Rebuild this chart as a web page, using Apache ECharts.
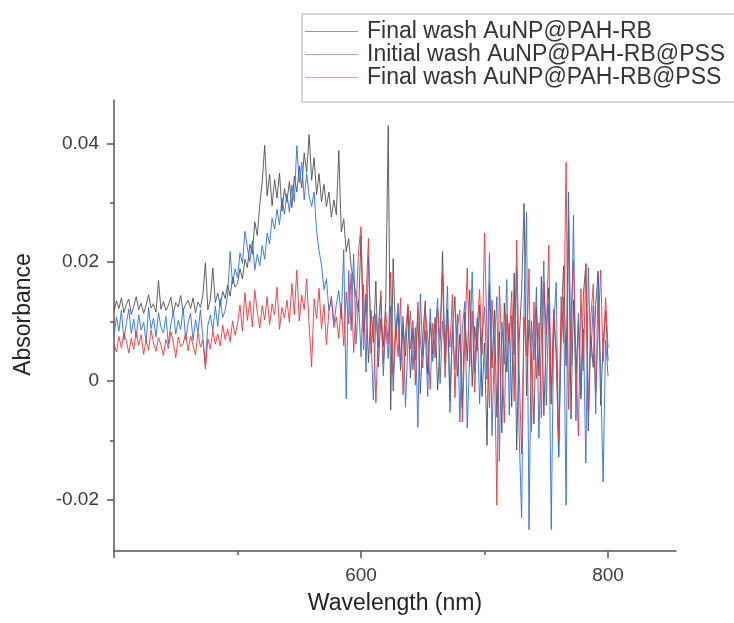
<!DOCTYPE html>
<html>
<head>
<meta charset="utf-8">
<script src="https://cdn.jsdelivr.net/npm/echarts@6/dist/echarts.min.js"></script>
<style>
    html, body { margin: 0; padding: 0; background: #fff; }
    #chart { width: 734px; height: 623px; }
</style>
</head>
<body>
<div id="chart"></div>
<script>
    // wavelength grid, 2 nm steps from 400 to 800 nm
    const wavelengths = Array.from({ length: 201 }, (_, i) => 400 + 2 * i);

    // absorbance values in units of 1e-3
    const finalWashRB = [
        11.8, 13.5, 12.2, 14.0, 11.5, 12.9, 13.8, 11.2, 12.6, 14.2,
        12.0, 13.1, 11.4, 12.8, 14.5, 12.3, 13.0, 11.6, 16.9, 12.1,
        13.4, 11.9, 12.7, 14.1, 11.3, 13.2, 12.5, 14.4, 11.8, 12.9,
        13.6, 12.2, 14.0, 11.5, 13.3, 12.4, 14.6, 19.9, 12.0, 13.7,
        19.0, 13.2, 14.8, 12.6, 15.1, 13.9, 16.2, 14.3, 17.5, 15.8,
        16.4, 18.9, 17.2, 20.5, 19.1, 23.0, 21.4, 26.8, 24.5, 29.6,
        33.5, 39.7, 31.2, 34.8, 29.5, 33.9, 30.8, 35.0, 28.6, 32.4,
        30.1, 33.6, 29.2, 34.5, 31.8, 36.2, 32.5, 38.4, 35.1, 41.5,
        33.8, 37.6, 31.4, 34.9, 30.2, 33.1, 29.4, 31.8, 27.6, 30.5,
        28.0, 38.8, 25.1, 27.3, 21.8, 24.0, 19.2, 16.9, 14.2, 11.6,
        24.5, 8.2, 14.6, 3.1, 12.0, 6.5, 16.8, 2.4, 10.5, 5.8,
        13.2, 43.0, -4.9, 20.6, 7.1, 11.4, 1.8, 9.6, 4.2, 12.5,
        0.5, 8.9, 3.6, 11.2, -2.1, 7.4, 13.5, 1.2, 9.8, 4.6,
        10.7, -1.5, 6.3, 21.8, 2.9, 12.1, -3.4, 8.5, 14.2, 0.8,
        7.9, -4.6, 11.6, 3.4, 15.3, -0.9, 9.2, 5.1, 12.8, -2.6,
        6.4, -10.8, 16.5, 2.2, 11.9, -6.1, 8.3, -8.7, 13.1, 1.5,
        9.7, -4.3, 18.2, -11.6, 6.8, 14.9, 29.9, -2.5, 10.3, 3.6,
        -7.2, 12.4, 0.9, 17.6, -5.8, 8.1, 15.7, -3.9, 11.0, 4.7,
        -12.8, 9.5, 19.4, 2.6, 27.5, -6.4, 13.6, 1.1, 10.2, -3.0,
        14.5, 19.6, -8.4, 7.7, 2.3, 12.9, 18.5, -4.1, 6.2, 11.8,
        3.4
    ];
    const initialWashPSS = [
        7.6, 10.8, 8.4, 11.9, 6.9, 9.7, 12.1, 8.0, 10.4, 7.3,
        11.2, 8.6, 9.9, 6.5, 12.4, 8.8, 10.6, 7.4, 11.5, 9.1,
        8.1, 10.9, 6.2, 9.5, 11.8, 7.9, 10.2, 8.7, 12.3, 7.0,
        9.8, 11.4, 6.8, 10.3, 8.2, 12.0, 7.1, 3.0, 9.4, 11.1,
        8.5, 12.6, 9.2, 13.8, 10.7, 11.9, 14.5, 21.8, 16.3, 18.9,
        17.4, 21.6, 19.8, 25.2, 22.4, 20.1, 23.6, 18.7, 21.3, 19.4,
        22.8, 20.5, 24.9, 23.1, 27.4, 25.6, 28.9, 26.3, 30.8, 28.1,
        31.5, 28.4, 33.0, 30.2, 39.6, 33.4, 36.8, 30.5, 34.9, 31.2,
        29.4, 31.8, 25.3, 22.0, 19.5, 15.4, 17.2, 11.8, 13.9, 9.6,
        12.9, 15.2, 10.4, 22.1, -3.0, 18.6, 8.5, 21.4, 6.2, 13.7,
        4.1, 16.2, 1.5, 21.0, 7.8, -3.2, 11.3, 5.6, 14.4, 0.9,
        9.3, 3.8, 12.6, -1.7, 8.0, 13.1, 2.7, 10.9, -4.4, 6.5,
        11.8, 1.9, 9.0, -7.8, 14.7, 4.3, 8.6, -2.6, 12.2, 3.3,
        7.5, 13.9, -0.4, 10.1, 5.2, 16.0, -5.3, 9.4, 2.0, 11.3,
        -6.9, 8.7, 13.4, -7.9, 4.6, 18.4, 1.4, 10.6, -3.8, 7.2,
        12.5, 0.3, 21.6, -9.2, 6.0, 14.2, -13.5, 9.9, 2.8, 17.1,
        -5.7, 11.0, 4.4, 19.3, -8.6, -23.0, 12.5, 28.4, -25.0, 10.1,
        3.5, 15.8, -9.6, 7.4, 20.2, -4.1, 13.0, -25.0, 9.1, 16.6,
        -12.5, 6.3, 14.1, -20.9, 31.8, 2.5, 27.9, -6.7, 11.4, -2.2,
        8.8, -13.8, 19.1, 4.0, 12.7, -5.5, 17.9, 1.6, -17.0, 6.9,
        0.8
    ];
    const finalWashPSS = [
        6.2, 4.9, 7.5, 5.6, 8.1, 6.8, 4.7, 7.2, 5.3, 8.4,
        6.0, 7.8, 4.5, 6.9, 5.2, 8.6, 6.4, 5.0, 7.3, 6.1,
        4.3, 7.0, 5.5, 8.3, 6.6, 3.9, 7.4, 5.8, 6.3, 8.0,
        5.1, 7.6, 6.0, 4.4, 8.2, 5.7, 6.9, 2.0, 7.1, 5.4,
        8.5, 6.2, 7.9, 5.9, 9.4, 7.0, 8.8, 6.6, 10.1, 7.7,
        9.6, 12.8, 8.4, 14.9, 10.2, 13.5, 9.1, 15.3, 11.6, 8.9,
        12.7, 10.3, 14.2, 9.5, 13.0, 11.1, 15.8, 8.7, 12.4, 10.6,
        13.6, 9.9, 16.4, 11.2, 18.7, 10.1, 14.5, 12.0, 17.2, 9.3,
        2.4, 13.8, 10.5, 15.6, 8.8, 12.9, 6.1, 11.7, 14.3, 9.0,
        10.8, 7.2, 13.1, 5.9, 15.0, 9.6, 18.1, 4.8, 12.2, 22.0,
        26.0, 5.3, 13.6, 24.0, 4.7, 10.9, -3.7, 8.6, 15.2, 3.0,
        11.7, 6.2, 18.3, 1.0, 9.5, 4.1, 14.0, -2.3, 8.1, 12.9,
        5.4, 10.2, -0.7, 13.3, 6.9, 2.2, 11.5, 7.6, -1.4, 9.7,
        3.9, 12.4, 7.0, 18.0, 0.6, 10.4, 5.7, 14.6, -2.8, 8.9,
        12.0, -6.9, 6.8, 19.0, 2.4, 11.8, -1.9, 9.0, 15.4, 4.5,
        24.9, 7.3, -4.5, 13.6, 3.8, -20.9, 16.0, 5.1, -7.0, 11.2,
        6.6, 15.1, -3.4, 23.7, 1.9, -12.3, 10.8, 4.2, 18.9, -8.5,
        13.3, 0.4, 9.8, -6.2, 16.7, 7.9, 22.9, -3.6, 12.1, 5.0,
        -10.1, 14.2, 6.5, 36.8, -4.8, 10.9, 20.3, 3.1, -9.2, 15.5,
        1.7, 19.8, -5.1, 10.6, 16.3, -2.0, 8.4, 18.7, 3.2, 14.0,
        5.6
    ];

    const seriesNames = ['Final wash AuNP@PAH-RB', 'Initial wash AuNP@PAH-RB@PSS', 'Final wash AuNP@PAH-RB@PSS'];
    const seriesColors = ['#4f4f4f', '#2f6fd8', '#e8363e'];
    const legendColors = ['#9a9a9a', '#8fa6d6', '#f0a0a6'];
    const xMajorTicks = [400, 600, 800];
    const xMinorTicks = [500, 700];
    const xLabelTicks = [600, 800];
    const yMajorTicks = [-0.02, 0, 0.02, 0.04];
    const yMinorTicks = [-0.01, 0.01, 0.03];

    const fontFamily = '"Liberation Sans", Arial, sans-serif';
    const axisColor = '#555';
    const xMin = 400, xMax = 855;
    const yMin = -0.0286, yMax = 0.0473;

    function toPairs(values) {
        return values.map((v, i) => [wavelengths[i], v / 1000]);
    }

    const chart = echarts.init(document.getElementById('chart'), null, { renderer: 'canvas' });

    const option = {
        animation: false,
        backgroundColor: '#fff',
        textStyle: { fontFamily: fontFamily },
        grid: { left: 114, right: 58, top: 100, bottom: 72 },
        legend: {
            orient: 'vertical',
            left: 302,
            top: 14,
            padding: [6, 20, 13, 3],
            itemGap: 0,
            itemWidth: 53,
            itemHeight: 1,
            icon: 'rect',
            borderColor: '#aaa',
            borderWidth: 1,
            textStyle: { fontSize: 23, color: '#333', lineHeight: 23, padding: [0, 0, 0, 4] },
            data: seriesNames.map((name, i) => ({ name: name, itemStyle: { color: legendColors[i] } }))
        },
        xAxis: [{
            type: 'value',
            min: xMin,
            max: xMax,
            name: 'Wavelength (nm)',
            nameLocation: 'middle',
            nameGap: 41,
            nameTextStyle: { fontSize: 23, color: '#222' },
            axisLine: { onZero: false, lineStyle: { color: axisColor, width: 1.5 } },
            axisTick: { length: 7, customValues: xMajorTicks, lineStyle: { color: axisColor, width: 1.5 } },
            axisLabel: { fontSize: 19, color: '#3a3a3a', margin: 15, customValues: xLabelTicks },
            splitLine: { show: false }
        }, {
            // overlay axis for the short minor ticks
            type: 'value',
            position: 'bottom',
            min: xMin,
            max: xMax,
            axisLine: { show: false, onZero: false },
            axisTick: { length: 4, customValues: xMinorTicks, lineStyle: { color: axisColor, width: 1.5 } },
            axisLabel: { show: false },
            splitLine: { show: false }
        }],
        yAxis: [{
            type: 'value',
            min: yMin,
            max: yMax,
            name: 'Absorbance',
            nameLocation: 'middle',
            nameGap: 79,
            nameTextStyle: { fontSize: 23, color: '#222', padding: [0, 0, 0, 22] },
            axisLine: { show: true, onZero: false, lineStyle: { color: axisColor, width: 1.5 } },
            axisTick: { show: true, length: 7, customValues: yMajorTicks, lineStyle: { color: axisColor, width: 1.5 } },
            axisLabel: {
                fontSize: 19, color: '#3a3a3a', margin: 15, customValues: yMajorTicks,
                formatter: v => (Math.abs(v) < 1e-9 ? '0' : v.toFixed(2))
            },
            splitLine: { show: false }
        }, {
            // overlay axis for the short minor ticks
            type: 'value',
            position: 'left',
            min: yMin,
            max: yMax,
            axisLine: { show: false, onZero: false },
            axisTick: { show: true, length: 4, customValues: yMinorTicks, lineStyle: { color: axisColor, width: 1.5 } },
            axisLabel: { show: false },
            splitLine: { show: false }
        }],
        series: [finalWashRB, initialWashPSS, finalWashPSS].map((values, i) => ({
            name: seriesNames[i],
            type: 'line',
            data: toPairs(values),
            symbol: 'none',
            color: seriesColors[i],
            lineStyle: { width: 1, color: seriesColors[i], opacity: 0.9 },
            z: 2 + i
        }))
    };

    chart.setOption(option);
</script>
</body>
</html>
